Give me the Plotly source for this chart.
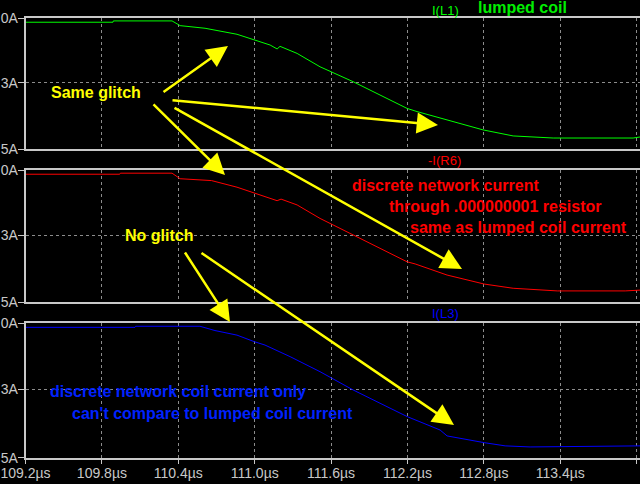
import plotly.graph_objects as go

# --- data (time in µs, current magnitude in A) ---
t_l1 = [109.2, 109.887, 109.89, 110.351, 110.414, 110.610, 110.861, 110.995, 111.121,
        111.176, 111.199, 111.333, 111.513, 111.773, 112.197, 112.275, 112.511,
        112.794, 113.030, 113.187, 113.344, 113.972, 114.026]
i_l1 = [0.15, 0.15, 0.10, 0.10, 0.28, 0.38, 0.61, 0.83, 1.02,
        1.17, 1.07, 1.34, 1.85, 2.42, 3.44, 3.56, 3.88,
        4.26, 4.49, 4.52, 4.57, 4.57, 4.53]

t_r6 = [109.2, 109.94, 109.945, 110.351, 110.414, 110.661, 110.861, 110.995, 111.176,
        111.207, 111.333, 111.513, 111.600, 112.197, 112.260, 112.511, 112.802,
        113.030, 113.376, 113.910, 114.026]
i_r6 = [0.16, 0.16, 0.12, 0.12, 0.33, 0.40, 0.65, 0.86, 1.16,
        1.10, 1.32, 1.83, 2.04, 3.47, 3.55, 3.97, 4.31,
        4.47, 4.57, 4.57, 4.54]

t_l3 = [109.2, 110.06, 110.065, 110.570, 110.688, 110.861, 110.995, 111.081, 111.278,
        111.513, 111.773, 112.197, 112.456, 112.511, 112.802, 112.967, 113.163,
        113.658, 114.026]
i_l3 = [0.15, 0.15, 0.11, 0.11, 0.27, 0.44, 0.68, 0.81, 1.24,
        1.80, 2.48, 3.47, 3.97, 4.19, 4.44, 4.56, 4.60,
        4.59, 4.56]

x_ticks = [109.2, 109.8, 110.4, 111.0, 111.6, 112.2, 112.8, 113.4, 114.0]
x_tick_text = ["109.2µs", "109.8µs", "110.4µs", "111.0µs", "111.6µs",
               "112.2µs", "112.8µs", "113.4µs", "114.0µs"]
y_ticks = [0, 2.46, 5]
y_tick_text = ["0A", "3A", "5A"]

W, H = 640, 484
GRID = "#8c8c8c"
AXIS = "#c8c8c8"
YELLOW = "#ffff00"


def px(x):
    return x / W


def py(y):
    return 1 - y / H


fig = go.Figure()
fig.add_trace(go.Scatter(x=t_l1, y=i_l1, mode="lines", line=dict(color="#00ff00", width=1),
                         xaxis="x", yaxis="y", showlegend=False))
fig.add_trace(go.Scatter(x=t_r6, y=i_r6, mode="lines", line=dict(color="#ff0000", width=1),
                         xaxis="x2", yaxis="y2", showlegend=False))
fig.add_trace(go.Scatter(x=t_l3, y=i_l3, mode="lines", line=dict(color="#0000ff", width=1),
                         xaxis="x3", yaxis="y3", showlegend=False))

# pane domains in pixel rows (top, bottom)
panes = [(18.3, 149.3), (170.0, 302.3), (323.3, 457.7)]
x_dom = [25.5 / W, 1.0]

layout = dict(
    width=W, height=H,
    margin=dict(l=0, r=0, t=0, b=0),
    paper_bgcolor="black", plot_bgcolor="black",
    font=dict(family="Liberation Sans, Arial, sans-serif", color=AXIS),
)
for k, (top, bot) in enumerate(panes):
    sx = "" if k == 0 else str(k + 1)
    last = k == 2
    layout["xaxis" + sx] = dict(
        domain=x_dom, range=[109.2, 114.026], anchor="y" + sx,
        tickvals=x_ticks, ticktext=x_tick_text, showticklabels=last,
        ticks="outside" if last else "", ticklen=5, tickcolor=AXIS,
        tickfont=dict(size=14, color=AXIS), ticklabelstandoff=-3,
        showgrid=True, gridcolor=GRID, griddash="3px,3px", gridwidth=1,
        showline=True, linecolor=AXIS, linewidth=1.5, mirror=True,
        zeroline=False, automargin=False,
    )
    if k > 0:
        layout["xaxis" + sx]["matches"] = "x"
    layout["yaxis" + sx] = dict(
        domain=[py(bot), py(top)], range=[5, 0], anchor="x" + sx,
        tickvals=y_ticks, ticktext=y_tick_text,
        ticks="outside", ticklen=6, tickcolor=AXIS,
        tickfont=dict(size=14, color=AXIS), ticklabelstandoff=-3,
        showgrid=True, gridcolor=GRID, griddash="3px,3px", gridwidth=1,
        showline=True, linecolor=AXIS, linewidth=1.5,
        zeroline=False, automargin=False,
    )
fig.update_layout(**layout)


def label(text, x, y, color, size=16, bold=True):
    fig.add_annotation(text=f"<b>{text}</b>" if bold else text, x=px(x), y=py(y),
                       xref="paper", yref="paper", showarrow=False,
                       xanchor="center", yanchor="middle",
                       font=dict(size=size, color=color))


def arrow(x0, y0, x1, y1):
    fig.add_annotation(text="", x=px(x1), y=py(y1), xref="paper", yref="paper",
                       ax=x0 - x1, ay=y0 - y1, axref="pixel", ayref="pixel",
                       showarrow=True, arrowhead=2, arrowsize=1.7, arrowwidth=2.5,
                       arrowcolor=YELLOW)


# trace names
label("I(L1)", 445, 10, "#00ff00", size=13, bold=False)
label("lumped coil", 522, 8, "#00ee00", size=16)
label("-I(R6)", 444, 161, "#ff0000", size=13, bold=False)
label("I(L3)", 445, 313, "#0000ff", size=13, bold=False)

# comments
label("Same glitch", 96, 93, YELLOW)
label("No glitch", 159, 236, YELLOW)
label("discrete network current", 445, 185, "#ff0000")
label("through .000000001 resistor", 495, 207, "#ff0000")
label("same as lumped coil current", 518, 227, "#ff0000")
label("discrete network coil current only", 178, 391, "#0022ff")
label("can't compare to lumped coil current", 212, 413, "#0022ff")

arrow(162, 93, 228, 46)
arrow(171, 100, 438, 125)
arrow(152, 103, 225, 175)
arrow(173, 107, 462, 269)
arrow(184, 251, 230, 322)
arrow(200, 252, 454, 425)

# LTspice window has no page margin
fig.write_html("out.html", config={"displayModeBar": False},
               post_script="document.body.style.margin='0';"
                           "document.body.style.background='black';")
